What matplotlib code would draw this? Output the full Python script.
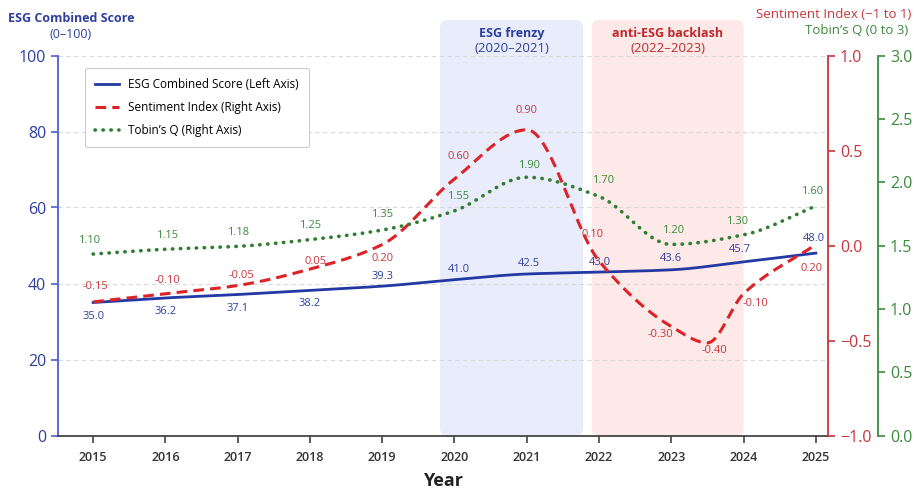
import numpy as np
import matplotlib.pyplot as plt
from matplotlib.patches import FancyBboxPatch

plt.rcParams['font.family'] = ['Open Sans', 'DejaVu Sans']

# ---- data ----
years = [2015, 2016, 2017, 2018, 2019, 2020, 2021, 2022, 2023, 2024, 2025]
esg_score = [35.0, 36.2, 37.1, 38.2, 39.3, 41.0, 42.5, 43.0, 43.6, 45.7, 48.0]
sent_years = [2015, 2016, 2017, 2018, 2019, 2020, 2021, 2022, 2023, 2023.5, 2024, 2025]
sentiment = [-0.15, -0.10, -0.05, 0.05, 0.20, 0.60, 0.90, 0.10, -0.30, -0.40, -0.10, 0.20]
tobins_q = [1.10, 1.15, 1.18, 1.25, 1.35, 1.55, 1.90, 1.70, 1.20, 1.30, 1.60]

era_names = ["ESG frenzy", "anti-ESG backlash"]
era_years = ["(2020–2021)", "(2022–2023)"]
era_start = [2019.8, 2021.9]
era_end = [2021.78, 2024.0]

BLUE = '#2338a3'
BLUE_TXT = '#2e3f9f'
BLUE_SPINE = '#4d5fcf'
RED = '#dc2328'
RED_TXT = '#c8353a'
GREEN = '#2f7d32'
GREEN_TXT = '#3b8a3b'


def smooth(x, y, n=400):
    # monotone cubic (pchip) just for drawing a smooth curve through the points
    x = np.asarray(x, float)
    y = np.asarray(y, float)
    h = np.diff(x)
    d = np.diff(y) / h
    m = np.zeros_like(y)
    m[0], m[-1] = d[0], d[-1]
    for k in range(1, len(x) - 1):
        if d[k - 1] * d[k] > 0:
            w1 = 2 * h[k] + h[k - 1]
            w2 = h[k] + 2 * h[k - 1]
            m[k] = (w1 + w2) / (w1 / d[k - 1] + w2 / d[k])
    xs = np.linspace(x[0], x[-1], n)
    i = np.clip(np.searchsorted(x, xs) - 1, 0, len(h) - 1)
    t = (xs - x[i]) / h[i]
    ys = ((2 * t**3 - 3 * t**2 + 1) * y[i] + (t**3 - 2 * t**2 + t) * h[i] * m[i]
          + (-2 * t**3 + 3 * t**2) * y[i + 1] + (t**3 - t**2) * h[i] * m[i + 1])
    return xs, ys


fig = plt.figure(figsize=(9.14, 4.93), dpi=100)
ax = fig.add_axes([58 / 914, 1 - 435.5 / 493, 770 / 914, 380 / 493])
ax.set_xlim(2014.514, 2025.168)
ax.set_ylim(0, 100)

# era shading, extends above the plot area
px_per_unit = 380 / 100
for name, yrs, x0, x1, fc, tc in zip(era_names, era_years, era_start, era_end,
                                     ['#e9edfb', '#fde9e7'], [BLUE_TXT, '#c0282d']):
    box = FancyBboxPatch((x0, 0), x1 - x0, 109.3,
                         boxstyle="round,pad=0,rounding_size=0.1",
                         mutation_aspect=(7 / px_per_unit) / 0.1,
                         fc=fc, ec='none', clip_on=False, zorder=0.5)
    ax.add_patch(box)
    xc = (x0 + x1) / 2
    ax.text(xc, 105.9, name, ha='center', va='center', color=tc,
            fontsize=9, fontweight='bold', clip_on=False)
    ax.text(xc, 101.9, yrs, ha='center', va='center', color=tc,
            fontsize=9.5, fontweight='normal', clip_on=False)

ax.yaxis.grid(True, color='#d9d9d9', linestyle=(0, (4, 3)), linewidth=0.8)
ax.set_yticks([0, 20, 40, 60, 80, 100])
ax.set_xticks(years)
ax.tick_params(axis='y', colors=BLUE_SPINE, labelcolor=BLUE_TXT, labelsize=11.5,
               length=5, width=1.2)
ax.tick_params(axis='x', colors='#444444', labelcolor='#333333', labelsize=9,
               length=5, width=1.2, pad=6)
for lab in ax.get_xticklabels():
    lab.set_fontweight('semibold')
ax.spines['top'].set_visible(False)
ax.spines['right'].set_visible(False)
ax.spines['left'].set_color(BLUE_SPINE)
ax.spines['left'].set_linewidth(1.3)
ax.spines['bottom'].set_color('#444444')
ax.spines['bottom'].set_linewidth(1.3)
ax.set_xlabel("Year", fontsize=13, fontweight='bold', labelpad=6, color='#222222')

# visible right axes
ax_r = ax.twinx()
ax_r.set_ylim(-1, 1)
ax_r.set_yticks([-1, -0.5, 0, 0.5, 1])
ax_r.set_yticklabels(['−1.0', '−0.5', '0.0', '0.5', '1.0'])
ax_r.tick_params(axis='y', colors=RED_TXT, labelsize=11.5, length=5, width=1.2)
for s in ['top', 'left', 'bottom']:
    ax_r.spines[s].set_visible(False)
ax_r.spines['right'].set_color(RED_TXT)
ax_r.spines['right'].set_linewidth(1.3)

ax_g = ax.twinx()
ax_g.set_ylim(0, 3)
ax_g.spines['right'].set_position(('axes', 1.065))
ax_g.set_yticks([0, 0.5, 1, 1.5, 2, 2.5, 3])
ax_g.set_yticklabels(['0.0', '0.5', '1.0', '1.5', '2.0', '2.5', '3.0'])
ax_g.tick_params(axis='y', colors=GREEN_TXT, labelsize=11.5, length=5, width=1.2)
for s in ['top', 'left', 'bottom']:
    ax_g.spines[s].set_visible(False)
ax_g.spines['right'].set_color(GREEN_TXT)
ax_g.spines['right'].set_linewidth(1.3)

# line layers
ax_rl = ax.twinx()
ax_rl.set_ylim(-0.965, 1.353)
ax_rl.axis('off')
ax_gl = ax.twinx()
ax_gl.set_ylim(-0.79, 3.168)
ax_gl.axis('off')

xs, ys = smooth(years, esg_score)
l_esg, = ax.plot(xs, ys, color=BLUE, lw=2.0, label="ESG Combined Score (Left Axis)", zorder=3)
xs, ys = smooth(sent_years, sentiment)
l_sent, = ax_rl.plot(xs, ys, color=RED, lw=2.2, linestyle=(0, (3.5, 2)),
                     label="Sentiment Index (Right Axis)")
xs, ys = smooth(years, tobins_q)
l_q, = ax_gl.plot(xs, ys, color=GREEN, lw=2.6, linestyle=(0, (0.1, 2.1)),
                  dash_capstyle='round', label="Tobin’s Q (Right Axis)")

# value labels
esg_off = [(0, -14), (0, -14), (0, -14), (0, -13), (0, 10), (4, 10), (2, 11),
           (1, 10), (0, 11), (-4, 12), (-2, 15)]
for (x, v), off in zip(zip(years, esg_score), esg_off):
    ax.annotate(f"{v:.1f}", (x, v), xytext=off, textcoords='offset pixels',
                ha='center', va='center', fontsize=8, color=BLUE_TXT,
                fontweight='medium', zorder=4)

sent_off = [(2, 15), (2, 13), (4, 10), (6, 8), (0, -14), (4, 22), (0, 19),
            (-6, 26), (-11, -8), (7, -8), (12, -10), (-4, -24)]
for (x, v), off in zip(zip(sent_years, sentiment), sent_off):
    ax_rl.annotate(f"{v:.2f}", (x, v), xytext=off, textcoords='offset pixels',
                   ha='center', va='center', fontsize=8, color=RED_TXT,
                   fontweight='medium')

q_off = [(-4, 14), (2, 14), (0, 14), (0, 14), (0, 16), (4, 14), (2, 12),
         (4, 16), (2, 14), (-6, 13), (-4, 15)]
for (x, v), off in zip(zip(years, tobins_q), q_off):
    ax_gl.annotate(f"{v:.2f}", (x, v), xytext=off, textcoords='offset pixels',
                   ha='center', va='center', fontsize=8, color=GREEN_TXT,
                   fontweight='medium')

leg = ax_gl.legend(handles=[l_esg, l_sent, l_q], loc='upper left',
                   bbox_to_anchor=(0.035, 0.967), borderaxespad=0, fontsize=8.5,
                   frameon=True, fancybox=True, edgecolor='#cccccc',
                   handlelength=2.0, labelspacing=0.85, borderpad=0.85,
                   handletextpad=0.8)
leg.get_frame().set_linewidth(0.8)
leg.get_frame().set_alpha(1.0)

# axis titles at the top
fig.text(71 / 914, 1 - 18 / 493, "ESG Combined Score", ha='center', va='center',
         color=BLUE_TXT, fontsize=9, fontweight='bold')
fig.text(71 / 914, 1 - 35 / 493, "(0–100)", ha='center', va='center',
         color=BLUE_TXT, fontsize=9, fontweight='normal')
fig.text(911 / 914, 1 - 14 / 493, "Sentiment Index (−1 to 1)", ha='right', va='center',
         color=RED_TXT, fontsize=9.5, fontweight='normal')
fig.text(908 / 914, 1 - 31 / 493, "Tobin’s Q (0 to 3)", ha='right', va='center',
         color=GREEN_TXT, fontsize=9.5, fontweight='normal')

fig.savefig("out.png", dpi=100)
